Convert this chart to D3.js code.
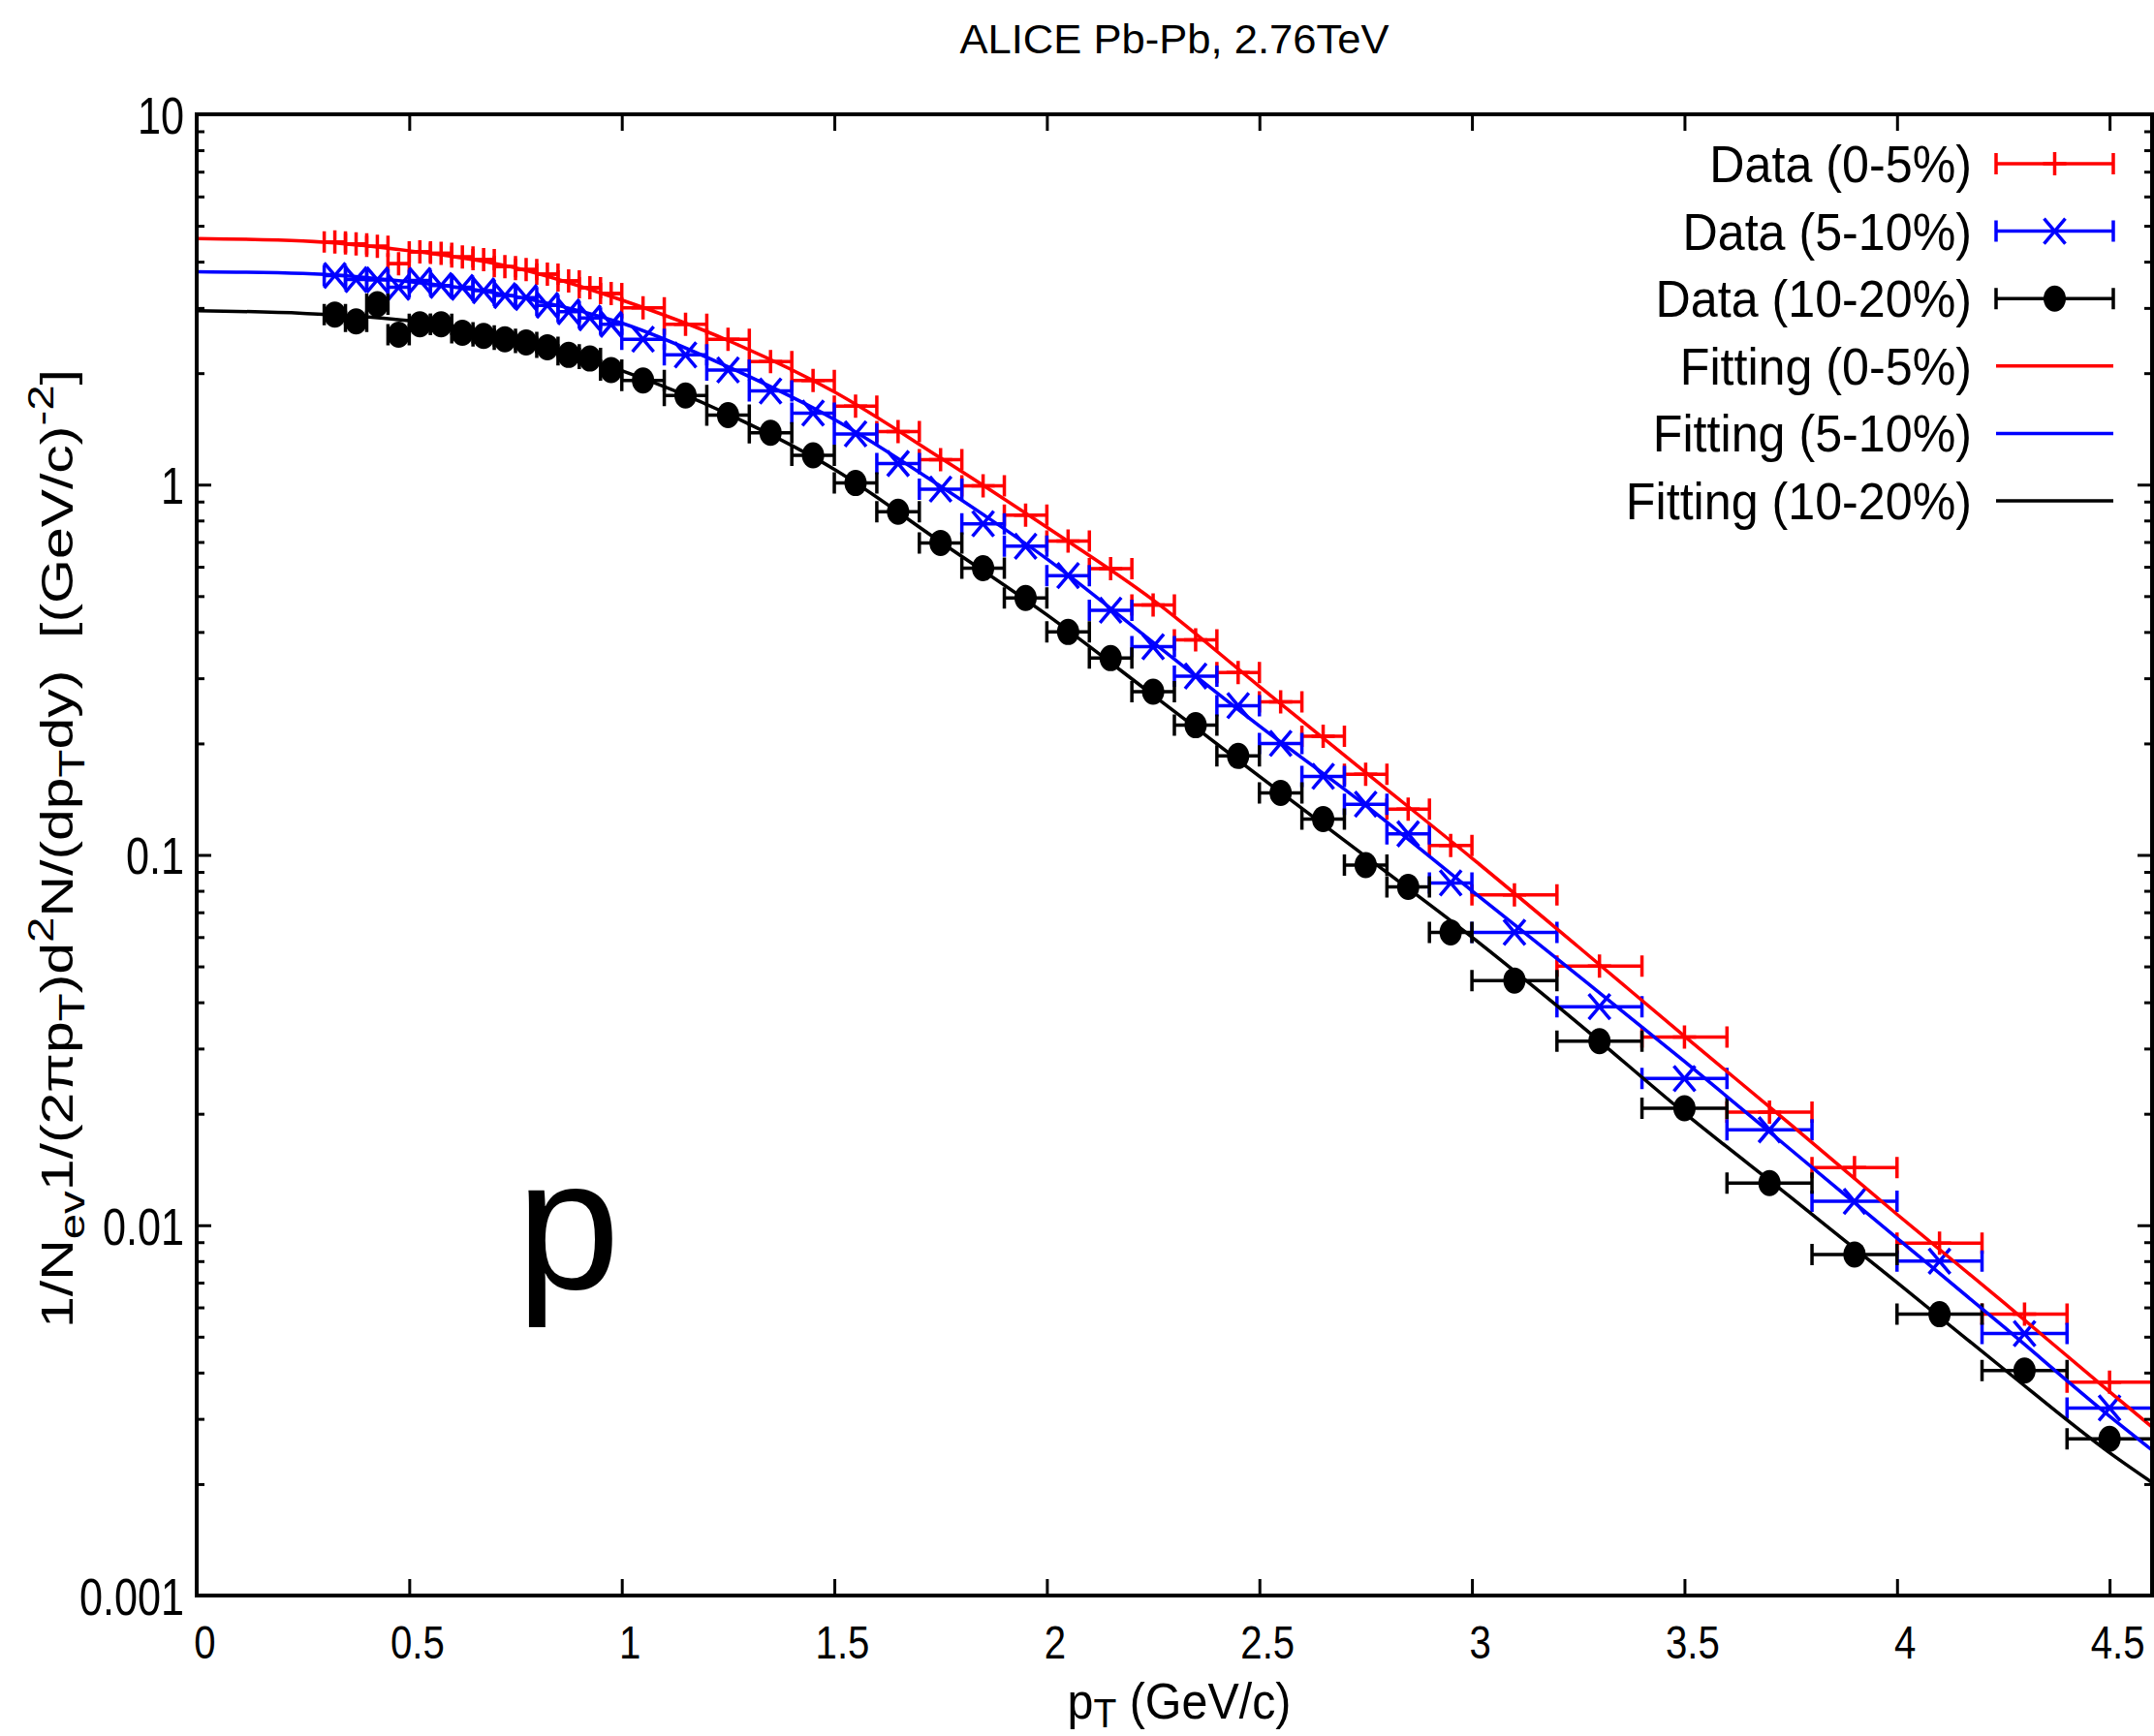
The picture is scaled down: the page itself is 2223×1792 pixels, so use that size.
<!DOCTYPE html>
<html>
<head>
<meta charset="utf-8">
<script src="https://cdn.jsdelivr.net/npm/d3@7"></script>
<style>
  body { margin: 0; background: #fff; }
  svg text { font-family: "Liberation Sans", Arial, Helvetica, sans-serif; fill: #000; }
</style>
</head>
<body>
<div id="chart"></div>
<script>
// canvas + plot frame
const width = 2223
const height = 1792
const margin = { left: 203, right: 2, top: 118, bottom: 145 }

// ---- data ----
const ptCenters = [
  0.325, 0.375, 0.425, 0.475, 0.525, 0.575, 0.625, 0.675, 0.725, 0.775, 0.825, 0.875, 0.925, 0.975,
  1.05, 1.15, 1.25, 1.35, 1.45, 1.55, 1.65, 1.75, 1.85, 1.95, 2.05, 2.15, 2.25, 2.35, 2.45, 2.55, 2.65, 2.75, 2.85, 2.95,
  3.1, 3.3, 3.5, 3.7, 3.9, 4.1, 4.3, 4.5
]
const ptHalfWidths = [
  0.025, 0.025, 0.025, 0.025, 0.025, 0.025, 0.025, 0.025, 0.025, 0.025, 0.025, 0.025, 0.025, 0.025,
  0.05, 0.05, 0.05, 0.05, 0.05, 0.05, 0.05, 0.05, 0.05, 0.05, 0.05, 0.05, 0.05, 0.05, 0.05, 0.05, 0.05, 0.05, 0.05, 0.05,
  0.1, 0.1, 0.1, 0.1, 0.1, 0.1, 0.1, 0.1
]
const data0to5 = [
  4.52, 4.47, 4.40, 3.95, 4.25, 4.21, 4.12, 4.05, 3.88, 3.81, 3.70, 3.55, 3.40, 3.28,
  3.00, 2.71, 2.47, 2.15, 1.91, 1.63, 1.39, 1.167, 0.993, 0.827, 0.704, 0.593, 0.473, 0.381, 0.311, 0.259, 0.209, 0.165, 0.133, 0.106,
  0.078, 0.0501, 0.0322, 0.0202, 0.0143, 0.00894, 0.00575, 0.00377
]
const data5to10 = [
  3.67, 3.58, 3.57, 3.41, 3.56, 3.45, 3.41, 3.34, 3.24, 3.20, 3.05, 2.93, 2.82, 2.71,
  2.47, 2.24, 2.04, 1.79, 1.56, 1.37, 1.14, 0.972, 0.784, 0.682, 0.568, 0.458, 0.365, 0.304, 0.253, 0.200, 0.163, 0.137, 0.114, 0.084,
  0.0618, 0.0389, 0.0249, 0.0181, 0.0116, 0.0080, 0.0051, 0.00321
]
const data10to20 = [
  2.88, 2.76, 3.07, 2.54, 2.71, 2.71, 2.57, 2.52, 2.47, 2.42, 2.35, 2.24, 2.19, 2.04,
  1.91, 1.74, 1.54, 1.38, 1.20, 1.01, 0.845, 0.696, 0.595, 0.494, 0.400, 0.340, 0.276, 0.224, 0.185, 0.147, 0.125, 0.0939, 0.082, 0.0618,
  0.0458, 0.0314, 0.0207, 0.0130, 0.00834, 0.00575, 0.00405, 0.00265
]

// fitted curves
const fitPt = [0, 0.25, 0.5, 0.75, 1.0, 1.25, 1.5, 1.75, 2.0, 2.25, 2.5, 2.75, 3.0, 3.25, 3.5, 3.75, 4.0, 4.25, 4.5, 4.6]
const fit0to5 = [4.62, 4.55, 4.28, 3.85, 3.15, 2.45, 1.78, 1.18, 0.767, 0.488, 0.285, 0.167, 0.098, 0.0565, 0.0324, 0.0187, 0.0107, 0.0062, 0.00355, 0.00285]
const fit5to10 = [3.76, 3.72, 3.53, 3.22, 2.73, 2.08, 1.50, 0.99, 0.63, 0.375, 0.223, 0.136, 0.080, 0.0472, 0.0277, 0.0160, 0.00923, 0.00533, 0.00305, 0.00247]
const fit10to20 = [2.95, 2.90, 2.77, 2.47, 2.03, 1.55, 1.10, 0.70, 0.445, 0.27, 0.163, 0.099, 0.060, 0.0351, 0.0201, 0.0119, 0.0070, 0.0041, 0.00243, 0.00202]

const xTicks = [0, 0.5, 1, 1.5, 2, 2.5, 3, 3.5, 4, 4.5]
const yTicks = [0.001, 0.01, 0.1, 1, 10]
const yMinorTicks = [2, 3, 4, 5, 6, 7, 8, 9].flatMap(m => [0.001, 0.01, 0.1, 1].map(p => m * p))

const seriesNames = ["Data (0-5%)", "Data (5-10%)", "Data (10-20%)", "Fitting (0-5%)", "Fitting (5-10%)", "Fitting (10-20%)"]
const colors = ["#ff0000", "#0000ff", "#000000"]

const dataSeries = [
  { name: seriesNames[0], values: data0to5, color: colors[0], marker: "plus" },
  { name: seriesNames[1], values: data5to10, color: colors[1], marker: "cross" },
  { name: seriesNames[2], values: data10to20, color: colors[2], marker: "dot" }
]
const fitSeries = [
  { name: seriesNames[3], values: fit0to5, color: colors[0] },
  { name: seriesNames[4], values: fit5to10, color: colors[1] },
  { name: seriesNames[5], values: fit10to20, color: colors[2] }
]

// ---- svg ----
var svg = d3.select("#chart")
  .append("svg")
  .attr("width", width)
  .attr("height", height)

var x = d3.scaleLinear()
  .domain([0, 4.6])
  .range([margin.left, width - margin.right])

var y = d3.scaleLog()
  .domain([0.001, 10])
  .range([height - margin.bottom, margin.top])

svg.append("clipPath").attr("id", "plot-clip")
  .append("rect")
  .attr("x", margin.left)
  .attr("y", margin.top)
  .attr("width", width - margin.left - margin.right)
  .attr("height", height - margin.top - margin.bottom)

// marker shapes
function drawMarker(g, kind, color) {
  if (kind === "plus") {
    g.append("path").attr("d", "M-12,0H12M0,-12V12")
      .attr("stroke", color).attr("stroke-width", 3.5).attr("fill", "none")
  } else if (kind === "cross") {
    g.append("path").attr("d", "M-11,-13L11,13M-11,13L11,-13")
      .attr("stroke", color).attr("stroke-width", 3.5).attr("fill", "none")
  } else {
    g.append("ellipse").attr("rx", 11.5).attr("ry", 13.5).attr("fill", color)
  }
}

function errorBarPath(x0, x1, yy) {
  return "M" + x0 + "," + yy + "H" + x1
    + "M" + x0 + "," + (yy - 11) + "V" + (yy + 11)
    + "M" + x1 + "," + (yy - 11) + "V" + (yy + 11)
}

var plot = svg.append("g").attr("clip-path", "url(#plot-clip)")

// data with x error bars
dataSeries.forEach(function (s) {
  var rows = ptCenters.map(function (pt, i) {
    return { pt: pt, hw: ptHalfWidths[i], v: s.values[i] }
  })
  var g = plot.append("g").attr("class", "series")
  g.selectAll("path.bar")
    .data(rows)
    .enter().append("path")
      .attr("class", "bar")
      .attr("d", function (d) { return errorBarPath(x(d.pt - d.hw), x(d.pt + d.hw), y(d.v)) })
      .attr("stroke", s.color)
      .attr("stroke-width", 3.5)
      .attr("fill", "none")
  g.selectAll("g.pt")
    .data(rows)
    .enter().append("g")
      .attr("class", "pt")
      .attr("transform", function (d) { return "translate(" + x(d.pt) + "," + y(d.v) + ")" })
      .each(function () { drawMarker(d3.select(this), s.marker, s.color) })
})

// fit curves
var fitLine = d3.line()
  .x(function (d) { return x(d[0]) })
  .y(function (d) { return y(d[1]) })
  .curve(d3.curveMonotoneX)

fitSeries.forEach(function (s) {
  plot.append("path")
    .datum(fitPt.map(function (p, i) { return [p, s.values[i]] }))
    .attr("d", fitLine)
    .attr("fill", "none")
    .attr("stroke", s.color)
    .attr("stroke-width", 3.5)
})

// ---- axes ----
var xLabelScale = 0.82
var yLabelScale = 0.8

svg.append("g")
  .attr("transform", "translate(0," + (height - margin.bottom) + ")")
  .call(d3.axisBottom(x).tickValues(xTicks).tickSize(-17).tickPadding(30).tickFormat(d3.format("~g")))
  .call(function (g) { g.select(".domain").remove() })
  .call(function (g) {
    g.selectAll("line").attr("stroke", "#000").attr("stroke-width", 3)
    g.selectAll("text")
      .attr("font-size", 49)
      .attr("font-family", null)
      .attr("x", 8 / xLabelScale)
      .attr("transform", "scale(" + xLabelScale + ",1)")
  })

svg.append("g")
  .attr("transform", "translate(0," + margin.top + ")")
  .call(d3.axisTop(x).tickValues(xTicks).tickSize(-17).tickFormat(""))
  .call(function (g) { g.select(".domain").remove() })
  .call(function (g) { g.selectAll("line").attr("stroke", "#000").attr("stroke-width", 3) })

svg.append("g")
  .attr("transform", "translate(" + margin.left + ",0)")
  .call(d3.axisLeft(y).tickValues(yTicks).tickSize(-15).tickPadding(13).tickFormat(d3.format("~g")))
  .call(function (g) { g.select(".domain").remove() })
  .call(function (g) {
    g.selectAll("line").attr("stroke", "#000").attr("stroke-width", 3)
    g.selectAll("text")
      .attr("font-size", 54)
      .attr("font-family", null)
      .attr("dy", "0.36em")
      .attr("x", -13 / yLabelScale)
      .attr("transform", "scale(" + yLabelScale + ",1)")
  })

svg.append("g")
  .attr("transform", "translate(" + margin.left + ",0)")
  .call(d3.axisLeft(y).tickValues(yMinorTicks).tickSize(-8).tickFormat(""))
  .call(function (g) { g.select(".domain").remove() })
  .call(function (g) { g.selectAll("line").attr("stroke", "#000").attr("stroke-width", 3) })

svg.append("g")
  .attr("transform", "translate(" + (width - margin.right) + ",0)")
  .call(d3.axisRight(y).tickValues(yTicks).tickSize(-15).tickFormat(""))
  .call(function (g) { g.select(".domain").remove() })
  .call(function (g) { g.selectAll("line").attr("stroke", "#000").attr("stroke-width", 3) })

svg.append("g")
  .attr("transform", "translate(" + (width - margin.right) + ",0)")
  .call(d3.axisRight(y).tickValues(yMinorTicks).tickSize(-8).tickFormat(""))
  .call(function (g) { g.select(".domain").remove() })
  .call(function (g) { g.selectAll("line").attr("stroke", "#000").attr("stroke-width", 3) })

// frame
svg.append("rect")
  .attr("x", margin.left)
  .attr("y", margin.top)
  .attr("width", width - margin.left - margin.right)
  .attr("height", height - margin.top - margin.bottom)
  .attr("fill", "none")
  .attr("stroke", "#000")
  .attr("stroke-width", 4)

// ---- texts ----
svg.append("text")
  .attr("x", (margin.left + width - margin.right) / 2)
  .attr("y", 55)
  .attr("text-anchor", "middle")
  .attr("font-size", 43)
  .attr("textLength", 443)
  .attr("lengthAdjust", "spacingAndGlyphs")
  .text("ALICE Pb-Pb, 2.76TeV")

// x title: p_T (GeV/c)
var xTitle = svg.append("text")
  .attr("x", 1217)
  .attr("y", 1774)
  .attr("text-anchor", "middle")
  .attr("font-size", 52)
  .attr("textLength", 231)
  .attr("lengthAdjust", "spacingAndGlyphs")
xTitle.append("tspan").text("p")
xTitle.append("tspan").attr("font-size", 42).attr("dy", 9).text("T")
xTitle.append("tspan").attr("dy", -9).text("\u00a0(GeV/c)")

// y title
var yTitle = svg.append("text")
  .attr("transform", "translate(75,876) rotate(-90)")
  .attr("text-anchor", "middle")
  .attr("font-size", 46)
  .attr("textLength", 990)
  .attr("lengthAdjust", "spacingAndGlyphs")
var yParts = [
  ["1/N", 0], ["ev", 1], ["1/(2\u03c0p", 0], ["T", 1], [")d", 0], ["2", 2],
  ["N/(dp", 0], ["T", 1], ["dy)\u00a0\u00a0[(GeV/c)", 0], ["-2", 2], ["]", 0]
]
var level = 0
yParts.forEach(function (p) {
  var shift = { 0: 0, 1: 12, 2: -20 }
  var dy = shift[p[1]] - shift[level]
  yTitle.append("tspan")
    .attr("dy", dy)
    .attr("font-size", p[1] === 0 ? 46 : 37)
    .text(p[0])
  level = p[1]
})

// big particle label
svg.append("text")
  .attr("x", 533)
  .attr("y", 1330)
  .attr("font-size", 192)
  .text("p")

// ---- legend ----
var legendScale = 0.93
var legend = svg.append("g").attr("class", "legend")
var legendItems = dataSeries.map(function (s) { return { name: s.name, color: s.color, marker: s.marker } })
  .concat(fitSeries.map(function (s) { return { name: s.name, color: s.color, marker: null } }))

legendItems.forEach(function (item, i) {
  var cy = 169 + i * 69.6
  legend.append("text")
    .attr("transform", "translate(2035," + (cy + 19) + ") scale(" + legendScale + ",1)")
    .attr("text-anchor", "end")
    .attr("font-size", 54)
    .text(item.name)
  if (item.marker) {
    legend.append("path")
      .attr("d", errorBarPath(2060, 2181, cy))
      .attr("stroke", item.color)
      .attr("stroke-width", 3.5)
      .attr("fill", "none")
    drawMarker(legend.append("g").attr("transform", "translate(2120.5," + cy + ")"), item.marker, item.color)
  } else {
    legend.append("line")
      .attr("x1", 2060).attr("x2", 2181)
      .attr("y1", cy).attr("y2", cy)
      .attr("stroke", item.color)
      .attr("stroke-width", 3.5)
  }
})
</script>
</body>
</html>
